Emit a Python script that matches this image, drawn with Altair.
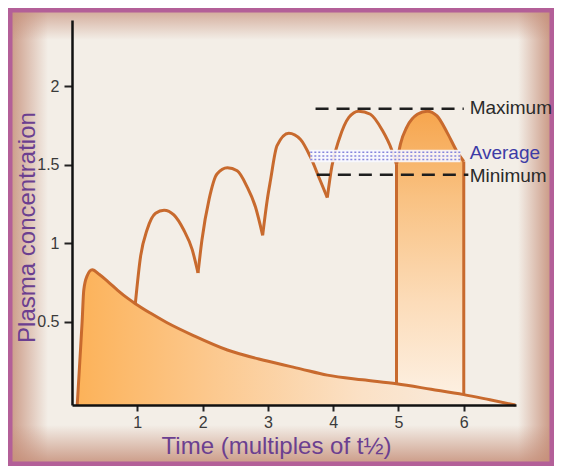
import altair as alt
import pandas as pd

# ---------------- data ----------------
# single-dose curve (time in multiples of t1/2, concentration)
dose1_t = [0.08, 0.12, 0.155, 0.18, 0.23, 0.31, 0.42, 0.55, 0.70, 0.85, 0.97, 1.20, 1.45,
           1.87, 2.38, 2.99, 3.50, 3.91, 4.45, 4.97, 5.50, 6.00, 6.40, 6.79]
dose1_v = [-0.03, 0.25, 0.50, 0.70, 0.79, 0.83, 0.80, 0.755, 0.70, 0.65, 0.615, 0.555, 0.495,
           0.41, 0.32, 0.25, 0.20, 0.16, 0.13, 0.105, 0.07, 0.036, 0.003, -0.03]

# repeated-dose arches (one list per dosing interval)
arch1_t = [0.97, 1.05, 1.15, 1.28, 1.41, 1.56, 1.71, 1.84, 1.93]
arch1_v = [0.615, 0.915, 1.085, 1.19, 1.21, 1.18, 1.085, 0.96, 0.81]
arch2_t = [1.93, 1.99, 2.10, 2.22, 2.38, 2.53, 2.68, 2.81, 2.92]
arch2_v = [0.81, 1.02, 1.28, 1.44, 1.48, 1.46, 1.36, 1.23, 1.05]
arch3_t = [2.92, 2.99, 3.04, 3.14, 3.32, 3.50, 3.65, 3.80, 3.91]
arch3_v = [1.05, 1.275, 1.40, 1.62, 1.70, 1.66, 1.55, 1.40, 1.29]
arch4_t = [3.91, 3.98, 4.09, 4.24, 4.39, 4.57, 4.75, 4.90, 4.97]
arch4_v = [1.29, 1.49, 1.66, 1.80, 1.84, 1.82, 1.72, 1.59, 1.50]
# shaded steady-state interval
arch5_t = [4.97, 5.03, 5.13, 5.29, 5.44, 5.59, 5.75, 5.90, 6.00]
arch5_v = [1.50, 1.63, 1.74, 1.82, 1.84, 1.81, 1.70, 1.58, 1.52]

# vertical edges of the shaded interval
edge_t = [4.97, 6.00]
edge_lo = [0.105, 0.036]
edge_hi = [1.50, 1.52]

# reference levels
level_names = ["Maximum", "Average", "Minimum"]
level_v = [1.855, 1.555, 1.435]
level_t0 = [3.73, 3.65, 3.75]
level_t1 = [6.00, 5.95, 6.07]
avg_band_lo = 1.515
avg_band_hi = 1.595
avg_rows = [1.532, 1.555, 1.578]
label_t = 6.09
label_v = [1.86, 1.575, 1.43]

x_ticks = [1, 2, 3, 4, 5, 6]
y_ticks = [0.5, 1, 1.5, 2]
x_domain = [0, 6.8]
y_domain = [-0.03, 2.42]

# ---------------- tables ----------------
dose1 = pd.DataFrame({"t": dose1_t, "v": dose1_v})
arches = pd.concat([
    pd.DataFrame({"t": arch1_t, "v": arch1_v, "seg": "a1"}),
    pd.DataFrame({"t": arch2_t, "v": arch2_v, "seg": "a2"}),
    pd.DataFrame({"t": arch3_t, "v": arch3_v, "seg": "a3"}),
    pd.DataFrame({"t": arch4_t, "v": arch4_v, "seg": "a4"}),
], ignore_index=True)
arch5 = pd.DataFrame({"t": arch5_t, "v": arch5_v})
edges = pd.DataFrame({"t": edge_t, "v": edge_lo, "v2": edge_hi})
dashed = pd.DataFrame({"t": [level_t0[0], level_t0[2]], "t2": [level_t1[0], level_t1[2]],
                       "v": [level_v[0], level_v[2]]})
band = pd.DataFrame({"t": [level_t0[1]], "t2": [level_t1[1]], "v": [avg_band_lo], "v2": [avg_band_hi]})
band_rows = pd.DataFrame({"t": [level_t0[1]] * 3, "t2": [level_t1[1]] * 3, "v": avg_rows})
labels = pd.DataFrame({"t": [label_t] * 3, "v": label_v, "label": level_names})
one = pd.DataFrame({"k": [0]})

# ---------------- layout / style ----------------
W, H = 444, 385
PL, PT, PR, PB = 64, 12, 38, 61
FONT = "Liberation Sans"
CURVE = "#c86a2e"
PURPLE = "#6b3f90"

xs = alt.Scale(domain=x_domain, nice=False, zero=False)
ys = alt.Scale(domain=y_domain, nice=False, zero=False)
xaxis = alt.Axis(values=x_ticks, format="d", title="Time (multiples of t½)", grid=False, zindex=1,
                 titleFont=FONT, titleFontSize=24, titleFontWeight="normal", titleColor=PURPLE,
                 titleX=204, titleY=48, titleAlign="center", titleBaseline="alphabetic",
                 labelFont=FONT, labelFontSize=16, labelColor="#3a3a3a", labelPadding=3,
                 labelFlush=False, tickSize=6, tickWidth=2, tickColor="#222222",
                 domainColor="#111111", domainWidth=2.5)
yaxis = alt.Axis(values=y_ticks, format=".1~f", title="Plasma concentration", grid=False, zindex=1,
                 titleFont=FONT, titleFontSize=24, titleFontWeight="normal", titleColor=PURPLE,
                 titleX=-38, titleY=207, titleAngle=270, titleAlign="center",
                 titleBaseline="alphabetic",
                 labelFont=FONT, labelFontSize=16, labelColor="#3a3a3a", labelPadding=5,
                 tickSize=8, tickWidth=2, tickColor="#222222",
                 domainColor="#111111", domainWidth=2.5)


def X(f):
    return alt.X(f, scale=xs, axis=xaxis)


def Y(f):
    return alt.Y(f, scale=ys, axis=yaxis)


def grad(c0, c1, horizontal=True):
    return alt.Gradient(gradient="linear",
                        x1=0, y1=0, x2=1 if horizontal else 0, y2=0 if horizontal else 1,
                        stops=[alt.GradientStop(color=c0, offset=0),
                               alt.GradientStop(color=c1, offset=1)])


# ---------------- decorative frame ----------------
bg = alt.Chart(one).mark_rect(fill="#f3eee7").encode(
    x=alt.value(-PL), x2=alt.value(W + PR), y=alt.value(-PT), y2=alt.value(H + PB))
edge_col = "196,140,118"
band_l = alt.Chart(one).mark_rect(fill=grad(f"rgba({edge_col},0.9)", f"rgba({edge_col},0)")).encode(
    x=alt.value(-PL), x2=alt.value(-24), y=alt.value(-PT), y2=alt.value(H + PB))
band_r = alt.Chart(one).mark_rect(fill=grad(f"rgba({edge_col},0)", f"rgba({edge_col},0.95)")).encode(
    x=alt.value(446), x2=alt.value(W + PR), y=alt.value(-PT), y2=alt.value(H + PB))
band_t = alt.Chart(one).mark_rect(fill=grad(f"rgba({edge_col},0.75)", f"rgba({edge_col},0)", False)).encode(
    x=alt.value(-PL), x2=alt.value(W + PR), y=alt.value(-PT), y2=alt.value(20))
band_b = alt.Chart(one).mark_rect(fill=grad(f"rgba({edge_col},0)", f"rgba({edge_col},0.9)", False)).encode(
    x=alt.value(-PL), x2=alt.value(W + PR), y=alt.value(H + 20), y2=alt.value(H + PB))
border = alt.Chart(one).mark_rect(fill="transparent", stroke="#b35f98", strokeWidth=5).encode(
    x=alt.value(-PL + 2), x2=alt.value(W + PR - 2), y=alt.value(-PT + 2), y2=alt.value(H + PB - 2))

# ---------------- data layers ----------------
shaded_fill = alt.Chart(arch5).mark_area(
    interpolate="monotone",
    fill=alt.Gradient(gradient="linear", x1=0, y1=0, x2=0, y2=1,
                      stops=[alt.GradientStop(color="#f6a54d", offset=0),
                             alt.GradientStop(color="#f9c283", offset=0.3),
                             alt.GradientStop(color="#fcdcb9", offset=0.65),
                             alt.GradientStop(color="#fdf2e6", offset=1)])
).encode(x=X("t:Q"), y=Y("v:Q"), y2=alt.datum(y_domain[0]))

dose1_fill = alt.Chart(dose1).mark_area(
    interpolate="monotone",
    fill=alt.Gradient(gradient="linear", x1=0, y1=0, x2=1, y2=0,
                      stops=[alt.GradientStop(color="#fcb259", offset=0),
                             alt.GradientStop(color="#fcc88d", offset=0.3),
                             alt.GradientStop(color="#fbe1c6", offset=0.65),
                             alt.GradientStop(color="#f7efe7", offset=1)])
).encode(x=X("t:Q"), y=Y("v:Q"), y2=alt.datum(y_domain[0]))

dose1_line = alt.Chart(dose1).mark_line(
    interpolate="monotone", color=CURVE, strokeWidth=3
).encode(x=X("t:Q"), y=Y("v:Q"))

arch_lines = alt.Chart(arches).mark_line(
    interpolate="monotone", color=CURVE, strokeWidth=3, strokeJoin="miter"
).encode(x=X("t:Q"), y=Y("v:Q"), detail="seg:N")

arch5_line = alt.Chart(arch5).mark_line(
    interpolate="monotone", color=CURVE, strokeWidth=3
).encode(x=X("t:Q"), y=Y("v:Q"))

edge_rules = alt.Chart(edges).mark_rule(color=CURVE, strokeWidth=3).encode(
    x=X("t:Q"), y=Y("v:Q"), y2="v2:Q")

band_rect = alt.Chart(band).mark_rect(fill="#f8f8ff", opacity=0.9).encode(
    x=X("t:Q"), x2="t2:Q", y=Y("v:Q"), y2="v2:Q")
band_dots = alt.Chart(band_rows).mark_rule(color="#8686dc", strokeWidth=1.4, strokeDash=[2, 2]).encode(
    x=X("t:Q"), x2="t2:Q", y=Y("v:Q"))

dash_rules = alt.Chart(dashed).mark_rule(color="#1e1e1e", strokeWidth=2.5, strokeDash=[13, 8]).encode(
    x=X("t:Q"), x2="t2:Q", y=Y("v:Q"))

text_black = alt.Chart(labels).transform_filter(alt.datum.label != "Average").mark_text(
    font=FONT, fontSize=19, align="left", baseline="middle", color="#2a2a2a"
).encode(x=X("t:Q"), y=Y("v:Q"), text="label:N")
text_blue = alt.Chart(labels).transform_filter(alt.datum.label == "Average").mark_text(
    font=FONT, fontSize=19, align="left", baseline="middle", color="#3d3ba6"
).encode(x=X("t:Q"), y=Y("v:Q"), text="label:N")

chart = alt.layer(
    bg, band_l, band_r, band_t, band_b, border,
    shaded_fill, dose1_fill, dose1_line, arch_lines, arch5_line, edge_rules,
    band_rect, band_dots, dash_rules, text_black, text_blue
).properties(
    width=W, height=H,
    padding={"left": PL, "top": PT, "right": PR, "bottom": PB},
    autosize=alt.AutoSizeParams(type="none"),
    background="#f3eee7",
).configure_view(strokeWidth=0)

chart.save("out.html", embed_options={"renderer": "svg", "actions": False})
